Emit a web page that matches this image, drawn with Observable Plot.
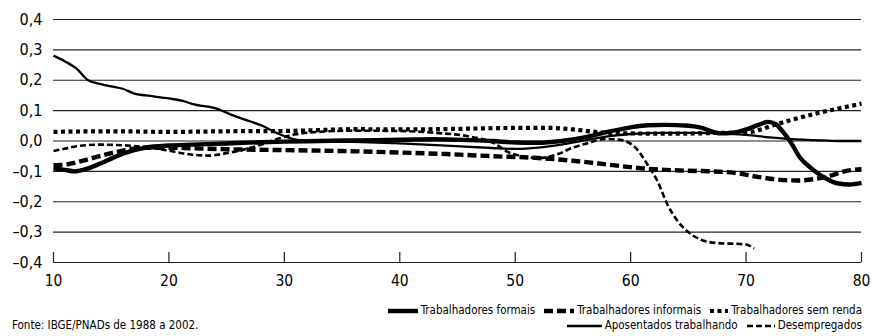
<!DOCTYPE html>
<html><head><meta charset="utf-8">
<script src="https://cdn.jsdelivr.net/npm/d3@7"></script>
<script src="https://cdn.jsdelivr.net/npm/@observablehq/plot@0.6"></script>
<style>
html,body{margin:0;padding:0;background:#fff;}
#wrap{position:relative;width:872px;height:336px;overflow:hidden;font-family:"Liberation Sans Narrow","DejaVu Sans Condensed","Open Sans",sans-serif;font-stretch:condensed;color:#000;}
#chart svg{display:block;}
.lg{position:absolute;right:10px;display:flex;align-items:center;font-size:11.5px;white-space:nowrap;line-height:13px;}
.lg .it{display:flex;align-items:center;margin-left:9px;}
.lg svg{margin-right:3px;display:block;}
#src{position:absolute;left:12px;top:319px;font-size:11.5px;line-height:13px;white-space:nowrap;}
</style></head>
<body><div id="wrap"><div id="chart"></div><div id="row1" class="lg" style="top:304px"></div><div id="row2" class="lg" style="top:319px"></div><div id="src">Fonte: IBGE/PNADs de 1988 a 2002.</div></div>
<script>
// ---- data ----
const xTicks = [10, 20, 30, 40, 50, 60, 70, 80];
const yTicks = [-0.4, -0.3, -0.2, -0.1, 0, 0.1, 0.2, 0.3, 0.4];

const seriesNames = ["Trabalhadores formais", "Trabalhadores informais", "Trabalhadores sem renda", "Aposentados trabalhando", "Desempregados"];

const formaisAge = [10, 11, 11.8, 13, 14, 15, 16, 17, 18, 20, 22, 25, 28, 30, 33, 36, 40, 43, 46, 48, 50, 52, 54, 56, 58, 60, 61.5, 63, 65, 66, 67.8, 69, 70, 71, 71.9, 72.6, 73.2, 73.8, 74.7, 75.5, 76.2, 77, 77.9, 79, 80];
const formaisVal = [-0.09, -0.095, -0.1, -0.09, -0.075, -0.058, -0.042, -0.03, -0.022, -0.015, -0.012, -0.008, -0.004, -0.002, 0.0, 0.002, 0.004, 0.006, 0.003, 0.0, -0.005, -0.006, 0.0, 0.012, 0.03, 0.045, 0.052, 0.053, 0.05, 0.045, 0.025, 0.028, 0.038, 0.052, 0.063, 0.055, 0.03, 0.0, -0.056, -0.085, -0.106, -0.125, -0.139, -0.143, -0.138];

const informaisAge = [10, 11, 12, 13, 14, 15, 16, 17, 18, 20, 22, 25, 30, 35, 40, 44, 48, 52, 55, 57, 59, 61, 63, 65, 67, 69, 71, 73, 74.5, 76, 77.5, 78.5, 80];
const informaisVal = [-0.08, -0.078, -0.07, -0.06, -0.05, -0.04, -0.032, -0.025, -0.022, -0.022, -0.024, -0.027, -0.03, -0.033, -0.038, -0.043, -0.05, -0.056, -0.065, -0.073, -0.082, -0.09, -0.095, -0.098, -0.1, -0.105, -0.118, -0.128, -0.13, -0.125, -0.112, -0.1, -0.093];

const semRendaAge = [10, 15, 20, 25, 30, 33, 36, 40, 45, 50, 53, 55, 57, 60, 63, 66, 68, 70, 71, 72.2, 74, 76, 78, 80];
const semRendaVal = [0.03, 0.032, 0.03, 0.032, 0.033, 0.036, 0.039, 0.038, 0.04, 0.043, 0.043, 0.038, 0.03, 0.025, 0.024, 0.025, 0.027, 0.027, 0.035, 0.05, 0.07, 0.09, 0.107, 0.123];

const aposentadosAge = [10, 11, 12, 13, 14, 15, 16, 17, 18, 20, 21.2, 22, 24.2, 25.5, 27, 28.1, 29.3, 30.7, 32, 36, 40, 44, 48, 50, 52, 54, 56, 58, 60, 63, 66, 68, 70, 72, 74, 76, 78, 80];
const aposentadosVal = [0.281, 0.262, 0.238, 0.2, 0.188, 0.18, 0.172, 0.156, 0.15, 0.14, 0.132, 0.122, 0.106, 0.085, 0.065, 0.05, 0.027, 0.007, 0.0, -0.003, -0.008, -0.015, -0.023, -0.026, -0.022, -0.012, 0.002, 0.015, 0.023, 0.027, 0.027, 0.025, 0.02, 0.012, 0.006, 0.003, 0.0, 0.0];

const desempregadosAge = [10, 11, 12, 14, 16, 18, 20, 22, 23.5, 25, 26.5, 28, 29.5, 31, 33, 36, 40, 43.4, 46, 48.3, 49.2, 50.6, 52, 53.7, 54.9, 56.3, 57.8, 59.3, 60.5, 61.5, 62.3, 63.2, 64, 65, 66.1, 67.5, 69.9, 70.7];
const desempregadosVal = [-0.033, -0.025, -0.017, -0.012, -0.014, -0.02, -0.032, -0.045, -0.048, -0.04, -0.028, -0.012, 0.008, 0.022, 0.03, 0.034, 0.033, 0.026, 0.015, -0.01, -0.033, -0.05, -0.056, -0.043, -0.023, -0.007, 0.007, 0.002, -0.025, -0.08, -0.13, -0.21, -0.26, -0.3, -0.325, -0.336, -0.34, -0.354];

// ---- styles (not data) ----
const styles = [
  {strokeWidth: 4.4, dash: null},
  {strokeWidth: 4.4, dash: "9,4"},
  {strokeWidth: 4.2, dash: "4,3.5"},
  {strokeWidth: 2.3, dash: null},
  {strokeWidth: 2.6, dash: "6,3"}
];

const seriesAges = [formaisAge, informaisAge, semRendaAge, aposentadosAge, desempregadosAge];
const seriesVals = [formaisVal, informaisVal, semRendaVal, aposentadosVal, desempregadosVal];

const rows = seriesNames.map((name, s) => seriesAges[s].map((a, i) => ({serie: name, age: a, value: seriesVals[s][i]})));

const fmt = d => (d < -1e-9 ? "\u2013" : "") + Math.abs(d).toFixed(1).replace(".", ",");
const fontFamily = '"Liberation Sans Narrow","DejaVu Sans Condensed","Open Sans",sans-serif';

const lineMarks = rows.map((data, s) => Plot.line(data, {
  x: "age", y: "value", curve: "monotone-x",
  stroke: "#000", strokeWidth: styles[s].strokeWidth,
  strokeDasharray: styles[s].dash, strokeLinecap: "butt", strokeLinejoin: "round"
}));

const chart = Plot.plot({
  width: 872, height: 292,
  marginLeft: 53, marginRight: 11, marginTop: 19, marginBottom: 30,
  style: {fontFamily, fontSize: "15.5px", background: "white", color: "#000", overflow: "visible"},
  x: {domain: [10, 80]},
  y: {domain: [-0.4, 0.4]},
  marks: [
    Plot.ruleY(yTicks, {stroke: "#222", strokeWidth: 1.2}),
    Plot.axisY(yTicks, {tickSize: 0, tickPadding: 11, tickFormat: fmt, fontSize: 16, label: null}),
    Plot.axisX(xTicks, {tickSize: 10, dy: -10, tickFormat: () => "", stroke: "#222", strokeWidth: 1.2, label: null}),
    Plot.axisX(xTicks, {tickSize: 0, tickPadding: 12, fontSize: 15.5, label: null}),
    ...lineMarks
  ]
});
document.getElementById("chart").appendChild(chart);

// ---- legend ----
function swatch(s, w) {
  const ns = "http://www.w3.org/2000/svg";
  const svg = document.createElementNS(ns, "svg");
  svg.setAttribute("width", w); svg.setAttribute("height", 8);
  const l = document.createElementNS(ns, "line");
  l.setAttribute("x1", 0); l.setAttribute("x2", w); l.setAttribute("y1", 4); l.setAttribute("y2", 4);
  l.setAttribute("stroke", "#000");
  l.setAttribute("stroke-width", styles[s].strokeWidth);
  if (styles[s].dash) l.setAttribute("stroke-dasharray", styles[s].dash);
  svg.appendChild(l);
  return svg;
}
const swW = [30, 30, 18, 35, 28];
const layout = [[0, 1, 2], [3, 4]];
layout.forEach((idxs, r) => {
  const row = document.getElementById("row" + (r + 1));
  idxs.forEach(s => {
    const it = document.createElement("div");
    it.className = "it";
    it.appendChild(swatch(s, swW[s]));
    const t = document.createElement("span");
    t.textContent = seriesNames[s];
    it.appendChild(t);
    row.appendChild(it);
  });
});
</script></body></html>
